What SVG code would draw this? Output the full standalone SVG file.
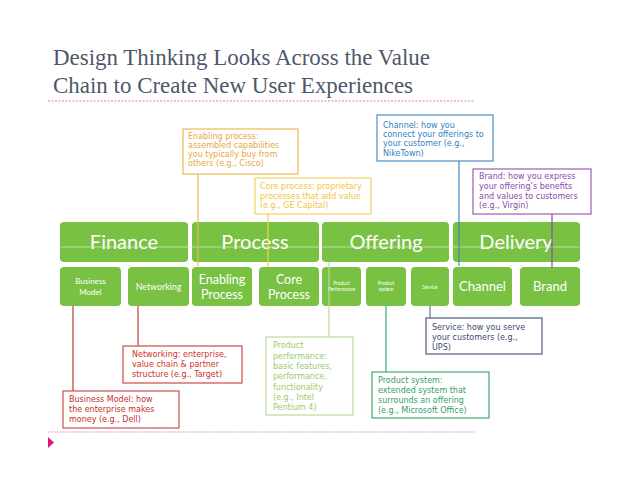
<svg xmlns="http://www.w3.org/2000/svg" width="638" height="493" viewBox="0 0 638 493">
<style>
.title{font-family:"Liberation Serif","DejaVu Serif",serif;font-size:22.5px;fill:#4f576b}
.blk{fill:#79c143}
.top{font-family:Lato,"Open Sans",sans-serif;font-size:20px;fill:#ffffff;text-anchor:middle}
.sub{font-family:Lato,"Open Sans",sans-serif;fill:#ffffff;text-anchor:middle}
.ann{font-family:"DejaVu Sans",Verdana,sans-serif;font-size:8px}
.box{fill:#ffffff;stroke-width:1.2}
.con{fill:none;stroke-width:1.2}
</style>
<rect width="638" height="493" fill="#ffffff"/>
<g id="title">
<text class="title" x="53" y="65" textLength="377" lengthAdjust="spacingAndGlyphs">Design Thinking Looks Across the Value</text>
<text class="title" x="53" y="93" textLength="360" lengthAdjust="spacingAndGlyphs">Chain to Create New User Experiences</text>
<line x1="48" y1="101" x2="475" y2="101" stroke="#e07aa8" stroke-width="1" stroke-dasharray="2,1.5"/>
</g>
<g id="footer">
<line x1="48" y1="432" x2="475" y2="432" stroke="#e6a8cc" stroke-width="1.5" stroke-dasharray="1.5,1.5"/>
<polygon points="48,437 54,442.5 48,448" fill="#d81b7a"/>
</g>
<g id="finance"><rect class="blk" x="60" y="222" width="128" height="40" rx="4"/><text class="top" x="124" y="249">Finance</text></g>
<g id="process"><rect class="blk" x="192" y="222" width="127" height="40" rx="4"/><text class="top" x="255" y="249">Process</text></g>
<g id="offering"><rect class="blk" x="322" y="222" width="127" height="40" rx="4"/><text class="top" x="386" y="249">Offering</text></g>
<g id="delivery"><rect class="blk" x="453" y="222" width="127" height="40" rx="4"/><text class="top" x="516" y="249">Delivery</text></g>
<line x1="60" y1="247" x2="580" y2="247" stroke="#e4efd8" stroke-width="0.8" opacity="0.8"/>
<g id="business-model"><rect class="blk" x="60" y="267" width="61" height="39" rx="4"/><text class="sub" font-size="8" x="90.5" y="284">Business</text><text class="sub" font-size="8" x="90.5" y="295">Model</text></g>
<g id="networking"><rect class="blk" x="128" y="267" width="61" height="39" rx="4"/><text class="sub" font-size="8.8" x="158.5" y="290">Networking</text></g>
<g id="enabling-process"><rect class="blk" x="192" y="267" width="60" height="39" rx="4"/><text class="sub" font-size="12.5" x="222" y="284">Enabling</text><text class="sub" font-size="12.5" x="222" y="298.5">Process</text></g>
<g id="core-process"><rect class="blk" x="259" y="267" width="60" height="39" rx="4"/><text class="sub" font-size="12.5" x="289" y="284">Core</text><text class="sub" font-size="12.5" x="289" y="298.5">Process</text></g>
<g id="product-performance"><rect class="blk" x="322" y="267" width="39" height="39" rx="4"/><text class="sub" font-size="4.8" x="341.5" y="285">Product</text><text class="sub" font-size="4.8" x="341.5" y="291">Performance</text></g>
<g id="product-system"><rect class="blk" x="366" y="267" width="40" height="39" rx="4"/><text class="sub" font-size="4.8" x="386" y="285">Product</text><text class="sub" font-size="4.8" x="386" y="291">system</text></g>
<g id="service"><rect class="blk" x="411" y="267" width="38" height="39" rx="4"/><text class="sub" font-size="4.8" x="430" y="289">Service</text></g>
<g id="channel"><rect class="blk" x="453" y="267" width="59" height="39" rx="4"/><text class="sub" font-size="13" x="482.5" y="291">Channel</text></g>
<g id="brand"><rect class="blk" x="520" y="267" width="60" height="39" rx="4"/><text class="sub" font-size="13" x="550" y="291">Brand</text></g>
<g id="connectors">
<line class="con" x1="198" y1="174" x2="198" y2="266" stroke="#f0b850"/>
<line class="con" x1="268" y1="214" x2="268" y2="267" stroke="#f5cf50"/>
<line class="con" x1="459" y1="161" x2="459" y2="266" stroke="#3f88c4"/>
<line class="con" x1="552" y1="214" x2="552" y2="268" stroke="#8c4aa8"/>
<line class="con" x1="73" y1="306" x2="73" y2="391" stroke="#b83838"/>
<line class="con" x1="138" y1="306" x2="138" y2="346" stroke="#c83838"/>
<line class="con" x1="329" y1="262" x2="329" y2="337" stroke="#b8dc98"/>
<line class="con" x1="386" y1="306" x2="386" y2="372" stroke="#3aa86c"/>
<line class="con" x1="430" y1="306" x2="430" y2="318" stroke="#6a7890"/>
</g>
<g id="enabling-note">
<rect class="box" x="183" y="129" width="115" height="45" stroke="#f0b850"/>
<text class="ann" fill="#e9a640"><tspan x="188" y="139">Enabling process:</tspan><tspan x="188" y="148">assembled capabilities</tspan><tspan x="188" y="157">you typically buy from</tspan><tspan x="188" y="165.5">others (e.g., Cisco)</tspan></text>
</g>
<g id="core-note">
<rect class="box" x="255" y="178" width="116" height="36" stroke="#f5d060"/>
<text class="ann" fill="#f0c534"><tspan x="260" y="189">Core process: proprietary</tspan><tspan x="260" y="198.5">processes that add value</tspan><tspan x="260" y="208">(e.g., GE Capital)</tspan></text>
</g>
<g id="channel-note">
<rect class="box" x="377" y="115" width="116" height="46" stroke="#4a90c8"/>
<text class="ann" fill="#2f7fbf"><tspan x="383" y="127.5">Channel: how you</tspan><tspan x="383" y="137">connect your offerings to</tspan><tspan x="383" y="146">your customer (e.g.,</tspan><tspan x="383" y="155.5">NikeTown)</tspan></text>
</g>
<g id="brand-note">
<rect class="box" x="473" y="169" width="118" height="45" stroke="#9c5cb8"/>
<text class="ann" fill="#8a4aa8"><tspan x="479" y="179">Brand: how you express</tspan><tspan x="479" y="189">your offering’s benefits</tspan><tspan x="479" y="198.5">and values to customers</tspan><tspan x="479" y="208">(e.g., Virgin)</tspan></text>
</g>
<g id="business-model-note">
<rect class="box" x="63" y="391" width="116" height="37" stroke="#c85050"/>
<text class="ann" fill="#c0302a"><tspan x="69" y="402">Business Model: how</tspan><tspan x="69" y="412">the enterprise makes</tspan><tspan x="69" y="422">money (e.g., Dell)</tspan></text>
</g>
<g id="networking-note">
<rect class="box" x="123" y="346" width="119" height="37" stroke="#d04a48"/>
<text class="ann" fill="#d0302a"><tspan x="132" y="357">Networking: enterprise,</tspan><tspan x="132" y="367">value chain &amp; partner</tspan><tspan x="132" y="377">structure (e.g., Target)</tspan></text>
</g>
<g id="product-performance-note">
<rect class="box" x="266" y="337" width="87" height="78" stroke="#b8dc98"/>
<text class="ann" fill="#9acb6a"><tspan x="273" y="348">Product</tspan><tspan x="273" y="358.5">performance:</tspan><tspan x="273" y="369">basic features,</tspan><tspan x="273" y="379">performance,</tspan><tspan x="273" y="389.5">functionality</tspan><tspan x="273" y="399.5">(e.g., Intel</tspan><tspan x="273" y="409.5">Pentium 4)</tspan></text>
</g>
<g id="product-system-note">
<rect class="box" x="372" y="372" width="117" height="46" stroke="#40aa70"/>
<text class="ann" fill="#35a065"><tspan x="378" y="383">Product system:</tspan><tspan x="378" y="393">extended system that</tspan><tspan x="378" y="403">surrounds an offering</tspan><tspan x="378" y="413">(e.g., Microsoft Office)</tspan></text>
</g>
<g id="service-note">
<rect class="box" x="426" y="318" width="116" height="36" stroke="#4a5a80"/>
<text class="ann" fill="#3c4a70"><tspan x="432" y="329.5">Service: how you serve</tspan><tspan x="432" y="340">your customers (e.g.,</tspan><tspan x="432" y="350">UPS)</tspan></text>
</g>
</svg>
